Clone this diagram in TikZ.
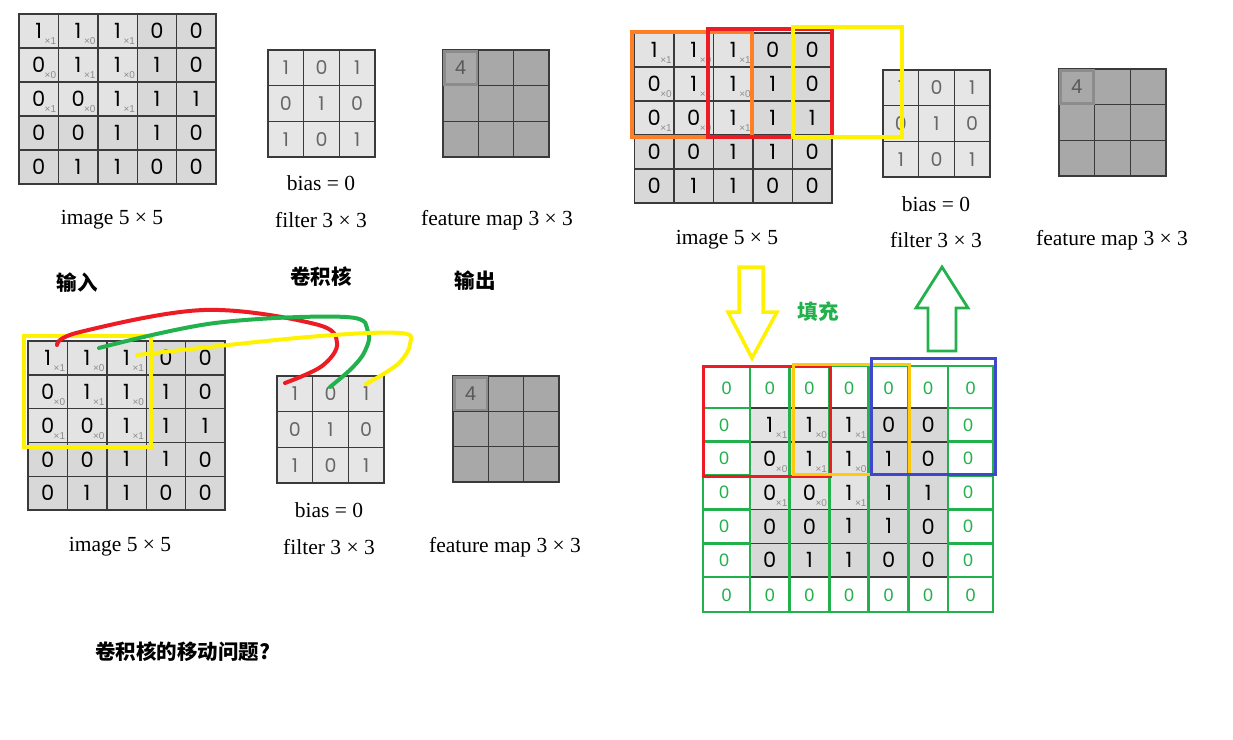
\documentclass[tikz,border=0pt]{standalone}
\usepackage{fontspec}
\setmainfont{Liberation Serif}
\newfontfamily\digf{Poppins}
\newfontfamily\arialf{Liberation Sans}
\newfontfamily\cjk{Noto Sans CJK SC}
\definecolor{pred}{HTML}{ED1C24}
\definecolor{pgreen}{HTML}{22B14C}
\definecolor{pyellow}{HTML}{FFF200}
\definecolor{porange}{HTML}{FF7F27}
\definecolor{pblue}{HTML}{3F48CC}
\definecolor{pgold}{HTML}{FFC90E}
\definecolor{cellA}{HTML}{D8D8D8}
\definecolor{cellB}{HTML}{E3E3E3}
\definecolor{filt}{HTML}{E6E6E6}
\definecolor{fmap}{HTML}{A8A8A8}
\definecolor{fmhi}{HTML}{8C8C8C}
\definecolor{gline}{HTML}{3A3A3A}
\tikzset{
  gridline/.style={draw=gline, line width=1.4pt},
  imgdigit/.style={font=\digf\fontsize{21}{24}\selectfont, text=black, inner sep=0pt},
  fdigit/.style={font=\digf\fontsize{19}{22}\selectfont, text=black!60, inner sep=0pt},
  fmdigit/.style={font=\arialf\fontsize{20}{22}\selectfont, text=black!65, inner sep=0pt},
  subsc/.style={font=\arialf\fontsize{10}{11}\selectfont, text=black!45, inner sep=0pt},
  lbl/.style={font=\fontsize{21.5}{25}\selectfont, inner sep=0pt},
  cjklbl/.style={font=\cjk\bfseries\fontsize{20.5}{24}\selectfont, inner sep=0pt},
  gzero/.style={font=\arialf\fontsize{18}{20}\selectfont, text=pgreen, inner sep=0pt},
  hand/.style={line width=4pt, line cap=round, line join=round},
  pad/.style={draw=pgreen, line width=2.8pt},
}
\newcommand\ImgGrid[5]{%
  \foreach [count=\r] \row in {{1,1,1,0,0},{0,1,1,1,0},{0,0,1,1,1},{0,0,1,1,0},{0,1,1,0,0}}{
    \foreach [count=\c] \v in \row {
      \pgfmathsetmacro\xa{#2+(\c-1)*#4}
      \pgfmathsetmacro\ya{#3+(\r-1)*#5}
      \pgfmathtruncatemacro\inker{(\r<4)&&(\c<4)}
      \ifnum\inker=1 \def\cf{cellB}\else\def\cf{cellA}\fi
      \draw[gridline, fill=\cf] (\xa,\ya) rectangle ++(#4,#5);
      \node[imgdigit] (#1-\r-\c) at (\xa+#4/2,\ya+#5/2) {\v};
      \ifnum\inker=1
        \pgfmathtruncatemacro\w{mod(\r+\c+1,2)}
        \node[subsc] (#1-s\r-\c) at (\xa+#4-8,\ya+#5-6.5) {×\w};
      \fi
    }
  }
}
\newcommand\FiltGrid[5]{%
  \foreach [count=\r] \row in {{1,0,1},{0,1,0},{1,0,1}}{
    \foreach [count=\c] \v in \row {
      \pgfmathsetmacro\xa{#2+(\c-1)*#4}
      \pgfmathsetmacro\ya{#3+(\r-1)*#5}
      \draw[gridline, fill=filt] (\xa,\ya) rectangle ++(#4,#5);
      \node[fdigit] (#1-\r-\c) at (\xa+#4/2,\ya+#5/2) {\v};
    }
  }
}
\newcommand\FmapGrid[5]{%
  \foreach \r in {1,2,3}{
    \foreach \c in {1,2,3}{
      \pgfmathsetmacro\xa{#2+(\c-1)*#4}
      \pgfmathsetmacro\ya{#3+(\r-1)*#5}
      \draw[gridline, fill=fmap] (\xa,\ya) rectangle ++(#4,#5);
    }
  }
  \draw[draw=fmhi, line width=2.6pt] (#2+1.3,#3+1.3) rectangle ++(#4-2.6,#5-2.6);
  \node[fmdigit] (#1-val) at (#2+#4/2,#3+#5/2) {4};
}
\begin{document}
\begin{tikzpicture}[x=1pt, y=-1pt]
\useasboundingbox[fill=white] (0,0) rectangle (1233,739);

% ---------- Panel A (top-left) ----------
\ImgGrid{ia}{19}{14}{39.4}{34}
\FiltGrid{fa}{268}{50}{35.67}{35.67}
\FmapGrid{ma}{443}{50}{35.33}{35.67}
\node[lbl] (biasA) at (321,183) {bias = 0};
\node[lbl] (imgA) at (112,220) {image 5 × 5};
\node[lbl] (filA) at (321,220) {filter 3 × 3};
\node[lbl] (fmA) at (497,220) {feature map 3 × 3};
\node[cjklbl] (inA) at (77,283) {输入};
\node[cjklbl] (kerA) at (321,277) {卷积核};
\node[cjklbl] (outA) at (475,281) {输出};

% ---------- Panel B (bottom-left) ----------
\ImgGrid{ib}{28}{341}{39.4}{33.8}
\FiltGrid{fb}{277}{376}{35.67}{35.67}
\FmapGrid{mb}{453}{376}{35.33}{35.33}
\node[lbl] (biasB) at (329,510) {bias = 0};
\node[lbl] (imgB) at (120,547) {image 5 × 5};
\node[lbl] (filB) at (329,547) {filter 3 × 3};
\node[lbl] (fmB) at (505,547) {feature map 3 × 3};
\draw[draw=pyellow, line width=4pt] (24,336) rectangle (151,447);
\draw[hand, pred] plot[smooth, tension=0.6] coordinates {(57,345) (80,332) (204,310) (315,324) (337,343) (322,366) (285,383)};
\draw[hand, pgreen] plot[smooth, tension=0.6] coordinates {(99,348) (215,323) (346,317) (368,332) (365,351) (352,368) (330,387)};
\draw[hand, pyellow] plot[smooth, tension=0.6] coordinates {(137,355) (308,337) (400,333) (410,344) (401,361) (385,373) (366,384)};
\node[cjklbl, anchor=west] (qB) at (95,652) {卷积核的移动问题?};

% ---------- Panel C (top-right) ----------
\ImgGrid{ic}{634.5}{33}{39.5}{34}
\FiltGrid{fc}{883}{70}{35.67}{35.67}
\FmapGrid{mc}{1059}{69}{35.67}{35.67}
\draw[draw=porange, line width=4pt] (632,32) rectangle (752,137);
\draw[draw=pred, line width=4pt] (708,29) rectangle (832,137);
\draw[draw=pyellow, line width=4pt] (793,27) rectangle (902,137);
\node[lbl] (biasC) at (936,204) {bias = 0};
\node[lbl] (imgC) at (727,240) {image 5 × 5};
\node[lbl] (filC) at (936,240) {filter 3 × 3};
\node[lbl] (fmC) at (1112,240) {feature map 3 × 3};

% ---------- Panel D (padding) ----------
\draw[pyellow, line width=3.5pt, line join=miter] (739,267) -- (763,267) -- (763,312) -- (777,312) -- (752,358) -- (728,312) -- (739,312) -- cycle;
\draw[pgreen, line width=2.8pt, line join=miter] (942,267) -- (968,308) -- (956,308) -- (956,351) -- (928,351) -- (928,308) -- (916,308) -- cycle;
\node[cjklbl, text=pgreen] (fillD) at (818,312) {填充};
\ImgGrid{id}{750}{408}{39.6}{33.8}
\draw[pad] (703,366) rectangle (993,612);
\foreach \x in {750,789.6,829.2,868.8,908.4,948}{ \draw[pad] (\x,366) -- (\x,612); }
\foreach \y in {408,441.8,475.6,509.4,543.2,577}{
  \draw[pad] (703,\y) -- (750,\y);
  \draw[pad] (948,\y) -- (993,\y);
}
\foreach [count=\i] \x in {726.5,769.8,809.4,849,888.6,928.2,970.5}{
  \node[gzero] (zt\i) at (\x,388) {0};
  \node[gzero] (zb\i) at (\x,595) {0};
}
\foreach [count=\i] \y in {424.9,458.7,492.5,526.3,560.1}{
  \node[gzero] (zl\i) at (724,\y) {0};
  \node[gzero] (zr\i) at (968,\y) {0};
}
\draw[draw=pred, line width=3pt] (703,366) rectangle (830,476);
\draw[draw=pgold, line width=3pt] (793,364) rectangle (909,474);
\draw[draw=pblue, line width=3pt] (871,358) rectangle (995,474);
\end{tikzpicture}
\end{document}
